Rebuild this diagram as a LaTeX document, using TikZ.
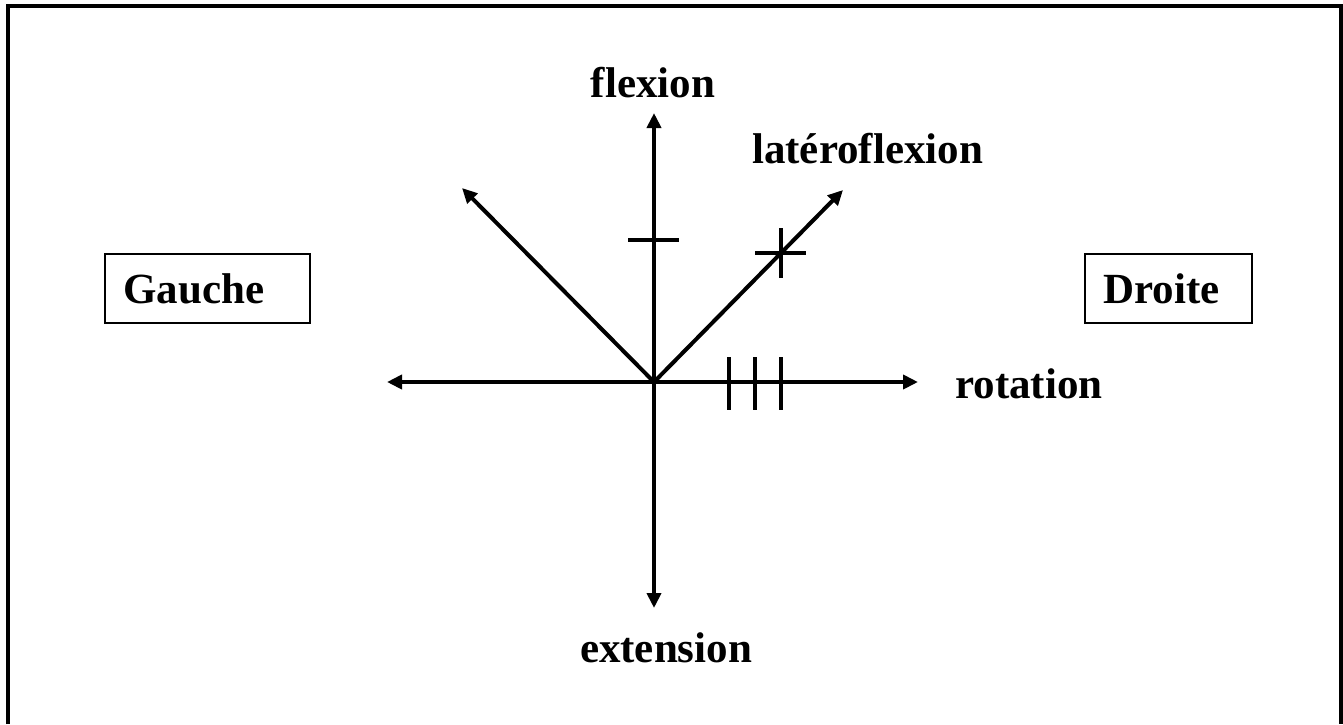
\documentclass[tikz,border=0pt]{standalone}
\usepackage{fontspec}
\setmainfont{Liberation Serif}
\usetikzlibrary{arrows.meta}
\tikzset{
  axis/.style={line width=4pt, -{Triangle[length=15pt,width=14pt]}},
  biaxis/.style={line width=4pt, {Triangle[length=15pt,width=14pt]}-{Triangle[length=15pt,width=14pt]}},
  tick/.style={line width=4pt},
  lbl/.style={font=\fontsize{43}{50}\selectfont\bfseries, inner sep=0pt},
  sidebox/.style={draw, line width=2.2pt, minimum height=69pt, inner sep=0pt},
  frame/.style={line width=4pt}
}
\begin{document}
\begin{tikzpicture}[x=1pt,y=-1pt]
\useasboundingbox (0,0) rectangle (1343,724);
\draw[frame] (7.5,724) -- (7.5,5.5) -- (1341,5.5) -- (1341,724);
% axes
\coordinate (O) at (654,382);
\coordinate (top) at (654,113);
\coordinate (bot) at (654,608);
\coordinate (lft) at (387,382);
\coordinate (rgt) at (918,382);
\coordinate (dl) at (462,188);
\coordinate (dr) at (843,190);
\draw[biaxis] (bot) -- (top);
\draw[biaxis] (lft) -- (rgt);
\draw[axis] (O) -- (dl);
\draw[axis] (O) -- (dr);
% ticks
\coordinate (t1a) at (628,240); \coordinate (t1b) at (679,240);
\draw[tick] (t1a) -- (t1b);
\coordinate (c1a) at (755,253); \coordinate (c1b) at (806,253);
\coordinate (c2a) at (781,228); \coordinate (c2b) at (781,278);
\draw[tick] (c1a) -- (c1b);
\draw[tick] (c2a) -- (c2b);
\foreach \x/\n in {729/r1,755/r2,781/r3}{
  \coordinate (\n a) at (\x,357); \coordinate (\n b) at (\x,410);
  \draw[tick] (\n a) -- (\n b);
}
% labels
\node[lbl, anchor=base] (flex) at (653,97) {flexion};
\node[lbl, anchor=base west] (lat) at (752,163) {latéroflexion};
\node[lbl, anchor=base west] (rot) at (955,398) {rotation};
\node[lbl, anchor=base] (ext) at (666,662) {extension};
% side boxes
\node[sidebox, minimum width=205pt] (gbox) at (207.5,288.5) {};
\node[lbl, anchor=base west] (gauche) at (123,303) {Gauche};
\node[sidebox, minimum width=167pt] (dbox) at (1168.5,288.5) {};
\node[lbl, anchor=base west] (droite) at (1103,303) {Droite};
\end{tikzpicture}
\end{document}
